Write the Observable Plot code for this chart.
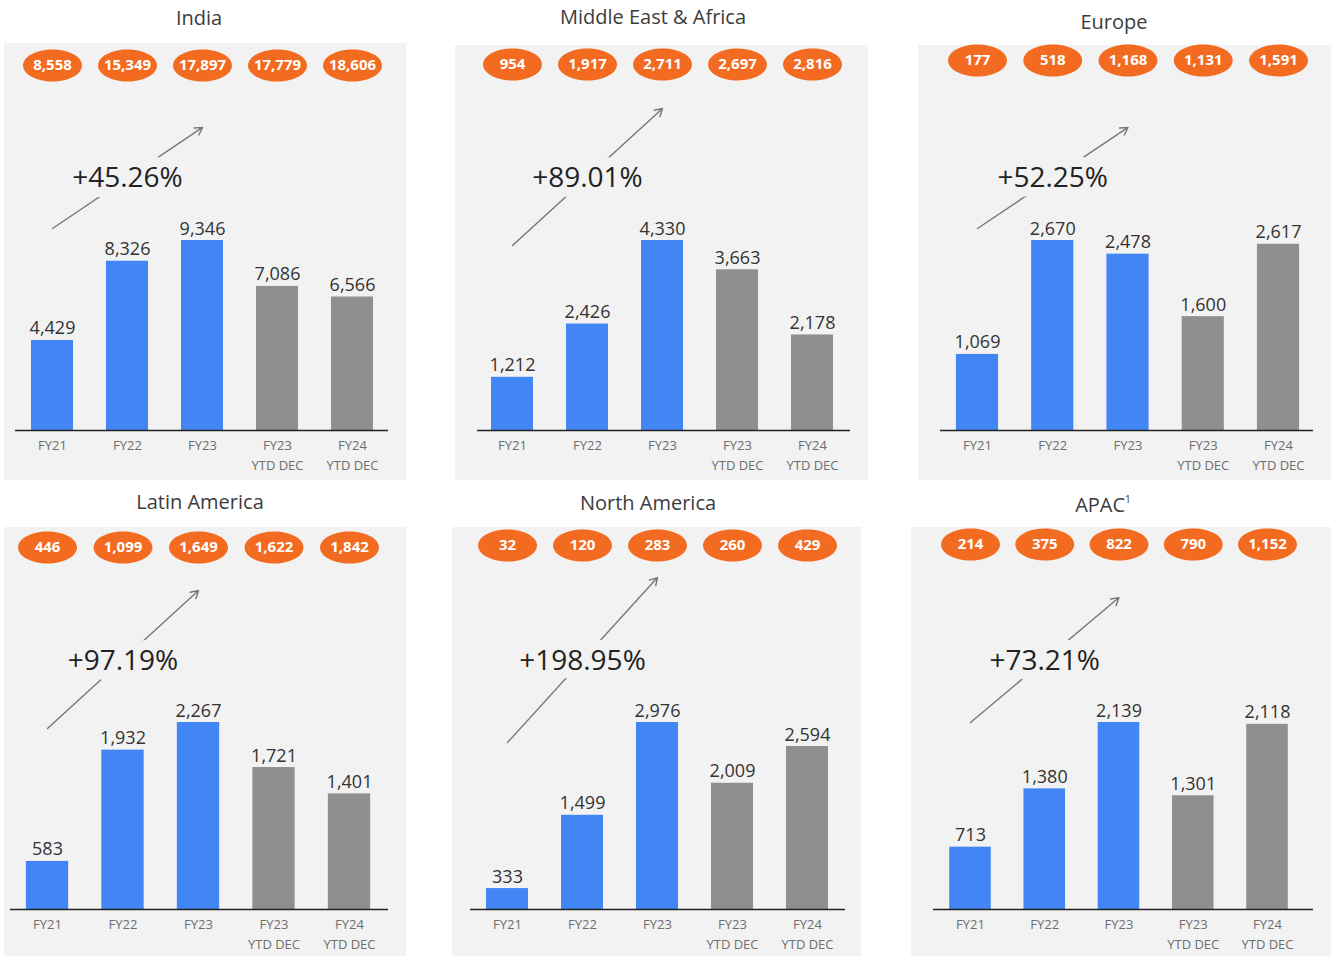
<!DOCTYPE html>
<html><head><meta charset="utf-8">
<script src="https://cdn.jsdelivr.net/npm/d3@7"></script>
<script src="https://cdn.jsdelivr.net/npm/@observablehq/plot@0.6"></script>
<style>
body{margin:0;background:#fff;font-family:"Open Sans",sans-serif;}
#root{position:relative;width:1339px;height:956px;overflow:hidden;background:#fff;}
.title{position:absolute;font-size:20px;line-height:24px;color:#3c3c3c;white-space:nowrap;transform:translateX(-50%);}
.title sup{font-size:10px;line-height:0;vertical-align:9px;}
.panel{position:absolute;}
.panel svg{display:block;}
</style></head><body><div id="root"></div>
<script>
// ---- data ----
const categories = ["FY21", "FY22", "FY23", "FY23 YTD DEC", "FY24 YTD DEC"];
const regions = ["India", "Middle East & Africa", "Europe", "Latin America", "North America", "APAC"];
const indiaValues  = [4429, 8326, 9346, 7086, 6566];
const meaValues    = [1212, 2426, 4330, 3663, 2178];
const europeValues = [1069, 2670, 2478, 1600, 2617];
const latamValues  = [583, 1932, 2267, 1721, 1401];
const naValues     = [333, 1499, 2976, 2009, 2594];
const apacValues   = [713, 1380, 2139, 1301, 2118];
const indiaCounts  = [8558, 15349, 17897, 17779, 18606];
const meaCounts    = [954, 1917, 2711, 2697, 2816];
const europeCounts = [177, 518, 1168, 1131, 1591];
const latamCounts  = [446, 1099, 1649, 1622, 1842];
const naCounts     = [32, 120, 283, 260, 429];
const apacCounts   = [214, 375, 822, 790, 1152];
const growthLabels = ["+45.26%", "+89.01%", "+52.25%", "+97.19%", "+198.95%", "+73.21%"];
const footnotes    = ["", "", "", "", "", "1"];

const seriesValues = [indiaValues, meaValues, europeValues, latamValues, naValues, apacValues];
const seriesCounts = [indiaCounts, meaCounts, europeCounts, latamCounts, naCounts, apacCounts];

// ---- layout (pixels) ----
const layout = [
  {left:4,   top:43,  width:402, height:437, tx:199,  ty:18,  ey:65,  first:52,  last:352,  base:430, bx1:15,  bx2:388,  maxPx:190, a1:1.063, a2:1.595},
  {left:455, top:45,  width:413, height:435, tx:653,  ty:17,  ey:64,  first:512, last:812,  base:430, bx1:477, bx2:850,  maxPx:190, a1:0.974, a2:1.695},
  {left:918, top:45,  width:413, height:435, tx:1114, ty:22,  ey:60,  first:977, last:1278, base:430, bx1:940, bx2:1313, maxPx:190, a1:1.063, a2:1.595},
  {left:4,   top:527, width:402, height:429, tx:200,  ty:502, ey:547, first:47,  last:349,  base:909, bx1:10,  bx2:388,  maxPx:187, a1:0.968, a2:1.706},
  {left:452, top:527, width:409, height:429, tx:648,  ty:503, ey:545, first:507, last:807,  base:909, bx1:470, bx2:845,  maxPx:187, a1:0.893, a2:1.775},
  {left:911, top:527, width:420, height:429, tx:1103, ty:505, ey:544, first:970, last:1267, base:909, bx1:933, bx2:1313, maxPx:187, a1:1.0,   a2:1.668}
];

const BLUE = "#4285f4", GRAY = "#8f8f8f", ORANGE = "#f26b21", BG = "#f2f2f2";
const fmt = d3.format(",");

const ellipse = {
  draw(ctx, size) {
    const ry = Math.sqrt(size / Math.PI), rx = ry * 1.84, k = 0.5523;
    ctx.moveTo(rx, 0);
    ctx.bezierCurveTo(rx, k * ry, k * rx, ry, 0, ry);
    ctx.bezierCurveTo(-k * rx, ry, -rx, k * ry, -rx, 0);
    ctx.bezierCurveTo(-rx, -k * ry, -k * rx, -ry, 0, -ry);
    ctx.bezierCurveTo(k * rx, -ry, rx, -k * ry, rx, 0);
    ctx.closePath();
  }
};

const root = document.getElementById("root");

regions.forEach((region, r) => {
  const cfg = layout[r];
  const values = seriesValues[r], counts = seriesCounts[r];
  const data = categories.map((c, i) => ({cat: c, value: values[i], count: counts[i], kind: c.includes("YTD") ? "YTD" : "Full"}));
  const max = d3.max(values);
  const n = categories.length;
  const step = (cfg.last - cfg.first) / (n - 1);
  const pi = 0.44, po = 0.44;
  const off = po * step + (1 - pi) * step / 2;
  const start = cfg.first - cfg.left - off;
  const R = step * (n - pi + 2 * po);
  const base = cfg.base - cfg.top;

  const title = document.createElement("div");
  title.className = "title";
  title.style.left = cfg.tx + "px";
  title.style.top = (cfg.ty - 12) + "px";
  title.textContent = region;
  if (footnotes[r]) { const s = document.createElement("sup"); s.textContent = footnotes[r]; title.appendChild(s); }
  root.appendChild(title);

  const chart = Plot.plot({
    width: cfg.width,
    height: cfg.height,
    marginTop: 0,
    marginBottom: cfg.height - base,
    marginLeft: cfg.bx1 - cfg.left,
    marginRight: cfg.left + cfg.width - cfg.bx2,
    style: {background: BG, color: "#6e6e6e", fontFamily: "'Open Sans', sans-serif", overflow: "visible"},
    x: {type: "band", domain: categories, range: [start, start + R], paddingInner: pi, paddingOuter: po, align: 0.5, round: false},
    y: {domain: [0, max], range: [base, base - cfg.maxPx], axis: null},
    color: {domain: ["Full", "YTD"], range: [BLUE, GRAY]},
    marks: [
      Plot.barY(data, {x: "cat", y: "value", fill: "kind"}),
      Plot.text(data, {x: "cat", y: "value", text: d => fmt(d.value), lineAnchor: "bottom", dy: -6, fontSize: 18, fill: "#333"}),
      Plot.ruleY([0], {stroke: "#222", strokeWidth: 1.5}),
      Plot.axisX({tickSize: 0, tickPadding: 6, label: null, fontSize: 13, lineHeight: 1.5, tickFormat: d => d.replace(" ", "\n")}),
      Plot.dot(data, {x: "cat", frameAnchor: "top", dy: cfg.ey - cfg.top, r: 16, symbol: ellipse, fill: ORANGE, stroke: "none"}),
      Plot.text(data, {x: "cat", frameAnchor: "top", lineAnchor: "middle", dy: cfg.ey - cfg.top, text: d => fmt(d.count), fill: "white", fontWeight: 700, fontSize: 15}),
      Plot.arrow([growthLabels[r]], {x1: () => categories[0], x2: () => categories[2], y1: () => max * cfg.a1, y2: () => max * cfg.a2, stroke: "#777", strokeWidth: 1.4, headLength: 9}),
      Plot.text([growthLabels[r]], {x: () => categories[1], y: () => max * 1.33, text: d => d, fontSize: 28, fill: "#222", stroke: BG, strokeWidth: 20})
    ]
  });
  const wrap = document.createElement("div");
  wrap.className = "panel";
  wrap.style.left = cfg.left + "px";
  wrap.style.top = cfg.top + "px";
  wrap.appendChild(chart);
  root.appendChild(wrap);
});
</script>
</body></html>
